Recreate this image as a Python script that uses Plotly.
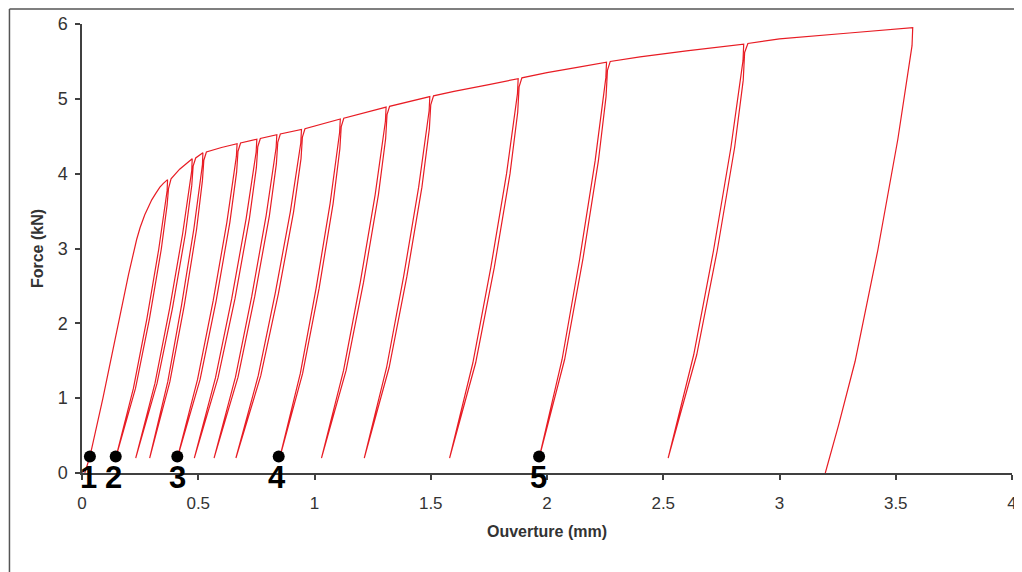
import plotly.graph_objects as go

# Opening (mm) and force (kN) along the cyclic test
ouverture_mm = [
    0.012, 0.034, 0.09, 0.158, 0.20, 0.235, 0.25, 0.27, 0.285, 0.30, 0.318, 0.335, 0.35, 0.368,
    # cycle 1
    0.366, 0.330, 0.279, 0.221, 0.145,
    0.230, 0.290, 0.341, 0.366, 0.372, 0.383, 0.42, 0.474,
    # cycle 2
    0.472, 0.433, 0.377, 0.314, 0.231,
    0.323, 0.389, 0.445, 0.472, 0.478, 0.489, 0.520,
    # cycle 3
    0.518, 0.481, 0.428, 0.369, 0.291,
    0.378, 0.440, 0.493, 0.518, 0.524, 0.535, 0.60, 0.667,
    # cycle 4
    0.664, 0.623, 0.564, 0.497, 0.410,
    0.508, 0.577, 0.636, 0.665, 0.671, 0.682, 0.752,
    # cycle 5
    0.749, 0.706, 0.644, 0.574, 0.483,
    0.585, 0.658, 0.720, 0.750, 0.756, 0.767, 0.838,
    # cycle 6
    0.835, 0.792, 0.730, 0.660, 0.568,
    0.671, 0.743, 0.806, 0.836, 0.842, 0.853, 0.944,
    # cycle 7
    0.941, 0.896, 0.831, 0.758, 0.662,
    0.769, 0.845, 0.910, 0.942, 0.948, 0.959, 1.03, 1.111,
    # cycle 8
    1.108, 1.067, 1.007, 0.939, 0.850,
    0.949, 1.020, 1.080, 1.109, 1.115, 1.126, 1.21, 1.308,
    # cycle 9
    1.305, 1.261, 1.197, 1.125, 1.030,
    1.136, 1.211, 1.275, 1.306, 1.312, 1.323, 1.40, 1.496,
    # cycle 10
    1.493, 1.448, 1.383, 1.310, 1.214,
    1.321, 1.397, 1.462, 1.494, 1.500, 1.512, 1.60, 1.75, 1.876,
    # cycle 11
    1.873, 1.826, 1.758, 1.681, 1.581,
    1.693, 1.773, 1.841, 1.874, 1.880, 1.892, 2.0, 2.13, 2.256,
    # cycle 12
    2.253, 2.207, 2.140, 2.065, 1.966,
    2.076, 2.154, 2.221, 2.254, 2.260, 2.272, 2.40, 2.60, 2.846,
    # cycle 13
    2.843, 2.791, 2.716, 2.631, 2.521,
    2.644, 2.732, 2.807, 2.844, 2.850, 2.864, 3.0, 3.3, 3.573,
    # final unloading
    3.570, 3.509, 3.423, 3.325, 3.255, 3.197,
]

force_kN = [
    0.0, 0.22, 1.0, 2.05, 2.65, 3.12, 3.28, 3.45, 3.56, 3.65, 3.74, 3.82, 3.87, 3.92,
    3.77, 2.99, 2.06, 1.13, 0.20,
    1.13, 2.06, 2.99, 3.58, 3.80, 3.93, 4.06, 4.20,
    4.04, 3.20, 2.20, 1.20, 0.20,
    1.20, 2.20, 3.20, 3.84, 4.10, 4.21, 4.28,
    4.12, 3.26, 2.24, 1.22, 0.20,
    1.22, 2.24, 3.26, 3.91, 4.18, 4.29, 4.35, 4.40,
    4.23, 3.35, 2.30, 1.25, 0.20,
    1.25, 2.30, 3.35, 4.02, 4.30, 4.41, 4.46,
    4.29, 3.40, 2.33, 1.27, 0.20,
    1.27, 2.33, 3.40, 4.08, 4.36, 4.47, 4.52,
    4.35, 3.44, 2.36, 1.28, 0.20,
    1.28, 2.36, 3.44, 4.13, 4.42, 4.53, 4.59,
    4.41, 3.49, 2.40, 1.30, 0.20,
    1.30, 2.40, 3.49, 4.20, 4.49, 4.60, 4.66, 4.73,
    4.55, 3.60, 2.47, 1.33, 0.20,
    1.33, 2.47, 3.60, 4.33, 4.63, 4.74, 4.81, 4.89,
    4.70, 3.72, 2.55, 1.37, 0.20,
    1.37, 2.55, 3.72, 4.47, 4.79, 4.90, 4.96, 5.03,
    4.84, 3.82, 2.62, 1.41, 0.20,
    1.41, 2.62, 3.82, 4.60, 4.92, 5.04, 5.10, 5.19, 5.27,
    5.07, 4.00, 2.74, 1.47, 0.20,
    1.47, 2.74, 4.00, 4.82, 5.16, 5.28, 5.35, 5.42, 5.49,
    5.28, 4.17, 2.85, 1.52, 0.20,
    1.52, 2.85, 4.17, 5.03, 5.38, 5.50, 5.56, 5.64, 5.73,
    5.51, 4.35, 2.97, 1.58, 0.20,
    1.58, 2.97, 4.35, 5.25, 5.62, 5.74, 5.80, 5.88, 5.95,
    5.71, 4.46, 2.98, 1.49, 0.65, 0.0,
]

# Marked states
point_x = [0.034, 0.145, 0.41, 0.846, 1.966]
point_y = [0.22, 0.22, 0.22, 0.22, 0.22]
point_labels = ["1", "2", "3", "4", "5"]
label_x = [0.026, 0.137, 0.41, 0.838, 1.962]

x_ticks = [0, 0.5, 1, 1.5, 2, 2.5, 3, 3.5, 4]
x_tick_text = ["0", "0.5", "1", "1.5", "2", "2.5", "3", "3.5", "4"]
y_ticks = [0, 1, 2, 3, 4, 5, 6]

FONT = "Liberation Sans, Arial, sans-serif"
AXIS = "#404040"

fig = go.Figure()
fig.add_trace(go.Scatter(
    x=ouverture_mm, y=force_kN, mode="lines",
    line=dict(color="rgb(232,28,36)", width=1.2),
    hoverinfo="skip", showlegend=False,
))
fig.add_trace(go.Scatter(
    x=point_x, y=point_y, mode="markers",
    marker=dict(color="black", size=12),
    cliponaxis=False, showlegend=False,
))
for lx, t in zip(label_x, point_labels):
    fig.add_annotation(
        x=lx, xref="x", y=-0.009, yref="paper", text="<b>%s</b>" % t,
        showarrow=False, xanchor="center", yanchor="middle",
        font=dict(family=FONT, size=31, color="black"),
    )

fig.update_layout(
    width=1014, height=564,
    margin=dict(l=74, r=5, t=16, b=99),
    paper_bgcolor="white", plot_bgcolor="white",
    font=dict(family=FONT, color="#333333"),
    showlegend=False,
)
fig.update_xaxes(
    range=[0, 4], tickvals=x_ticks, ticktext=x_tick_text,
    showgrid=False, zeroline=False,
    showline=True, linecolor=AXIS, linewidth=1.5,
    ticks="outside", ticklen=5, tickcolor=AXIS, tickwidth=1.5,
    ticklabelstandoff=9,
    tickfont=dict(size=17, color="#333333"),
    title=dict(text="<b>Ouverture (mm)</b>", font=dict(size=16, color="#333333"), standoff=14),
)
fig.update_yaxes(
    range=[0, 6], tickvals=y_ticks,
    showgrid=False, zeroline=False,
    showline=True, linecolor=AXIS, linewidth=1.5,
    ticks="outside", ticklen=5, tickcolor=AXIS, tickwidth=1.5,
    ticklabelstandoff=4,
    tickfont=dict(size=18, color="#333333"),
    title=dict(text="<b>Force (kN)</b>", font=dict(size=16, color="#333333"), standoff=10),
)

# Outer frame (left and top edges of the original picture)
fig.add_shape(type="line", xref="paper", yref="paper",
              x0=-0.078, x1=-0.078, y0=-0.25, y1=1.0334,
              line=dict(color="#555555", width=1.5))
fig.add_shape(type="line", xref="paper", yref="paper",
              x0=-0.078, x1=1.02, y0=1.0334, y1=1.0334,
              line=dict(color="#555555", width=1.5))

fig.write_html("out.html")
